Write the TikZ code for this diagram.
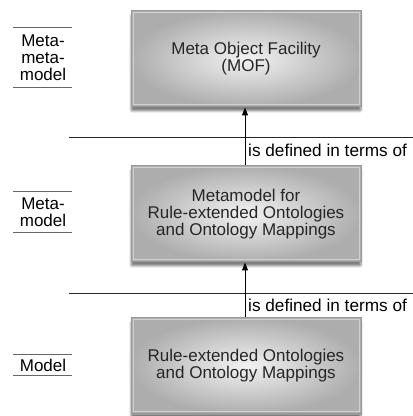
\documentclass[tikz,border=0pt]{standalone}
\usepackage{fontspec}
\setmainfont{Liberation Sans}
\usetikzlibrary{shadows.blur,arrows.meta}
\begin{document}
\begin{tikzpicture}[x=1pt,y=1pt,
  font=\fontsize{17}{17}\selectfont,
  levelbox/.style={minimum width=230pt, minimum height=96pt, align=center,
    text=black!85,
    draw=black!40, line width=1pt, inner color=black!5, outer color=black!32,
    blur shadow={shadow xshift=0pt, shadow yshift=-4pt, shadow blur steps=6,
      shadow blur extra rounding=1pt, shadow opacity=50}},
  sepline/.style={draw=black!85, line width=0.9pt},
  tagline/.style={draw=black!60, line width=1pt},
  defarrow/.style={draw=black, line width=1pt, -{Triangle[length=8pt,width=6pt]}},
  tag/.style={align=center, inner sep=0pt, font=\fontsize{17}{17}\selectfont},
  rel/.style={anchor=west, inner sep=0pt, font=\fontsize{17.2}{17}\selectfont}]
\useasboundingbox (0,0) rectangle (413,416);

% model levels
\node[levelbox] (mof) at (246,357) {Meta Object Facility\\(MOF)};
\node[levelbox] (meta) at (246,202) {Metamodel for\\Rule-extended Ontologies\\and Ontology Mappings};
\node[levelbox] (model) at (246,50) {Rule-extended Ontologies\\and Ontology Mappings};
% inner highlight frame of each box
\foreach \b in {mof,meta,model}
  \draw[black!18, line width=1pt] ([shift={(2.5,-2.5)}]\b.north west) rectangle ([shift={(-2.5,2.5)}]\b.south east);

% level separators
\coordinate (s1a) at (69,279); \coordinate (s1b) at (413,279);
\coordinate (s2a) at (69,123); \coordinate (s2b) at (413,123);
\draw[sepline] (s1a) -- (s1b);
\draw[sepline] (s2a) -- (s2b);

% conformance arrows
\draw[defarrow] (meta.north -| 245,0) -- (mof.south -| 245,0);
\draw[defarrow] (model.north -| 245,0) -- (meta.south -| 245,0);
\node[rel] (r1) at (248,266) {is defined in terms of};
\node[rel] (r2) at (248,111) {is defined in terms of};

% level tags on the left
\node[tag] (t1) at (43,358) {Meta-\\meta-\\model};
\draw[tagline] (13,388) coordinate (t1a) -- (72,388) coordinate (t1b);
\draw[tagline] (13,328) coordinate (t1c) -- (72,328) coordinate (t1d);
\node[tag] (t2) at (43,203.5) {Meta-\\model};
\draw[tagline] (13,224) coordinate (t2a) -- (72,224) coordinate (t2b);
\draw[tagline] (13,183) coordinate (t2c) -- (72,183) coordinate (t2d);
\node[tag] (t3) at (43,50.5) {Model};
\draw[tagline] (13,61) coordinate (t3a) -- (72,61) coordinate (t3b);
\draw[tagline] (13,40) coordinate (t3c) -- (72,40) coordinate (t3d);
\end{tikzpicture}
\end{document}
